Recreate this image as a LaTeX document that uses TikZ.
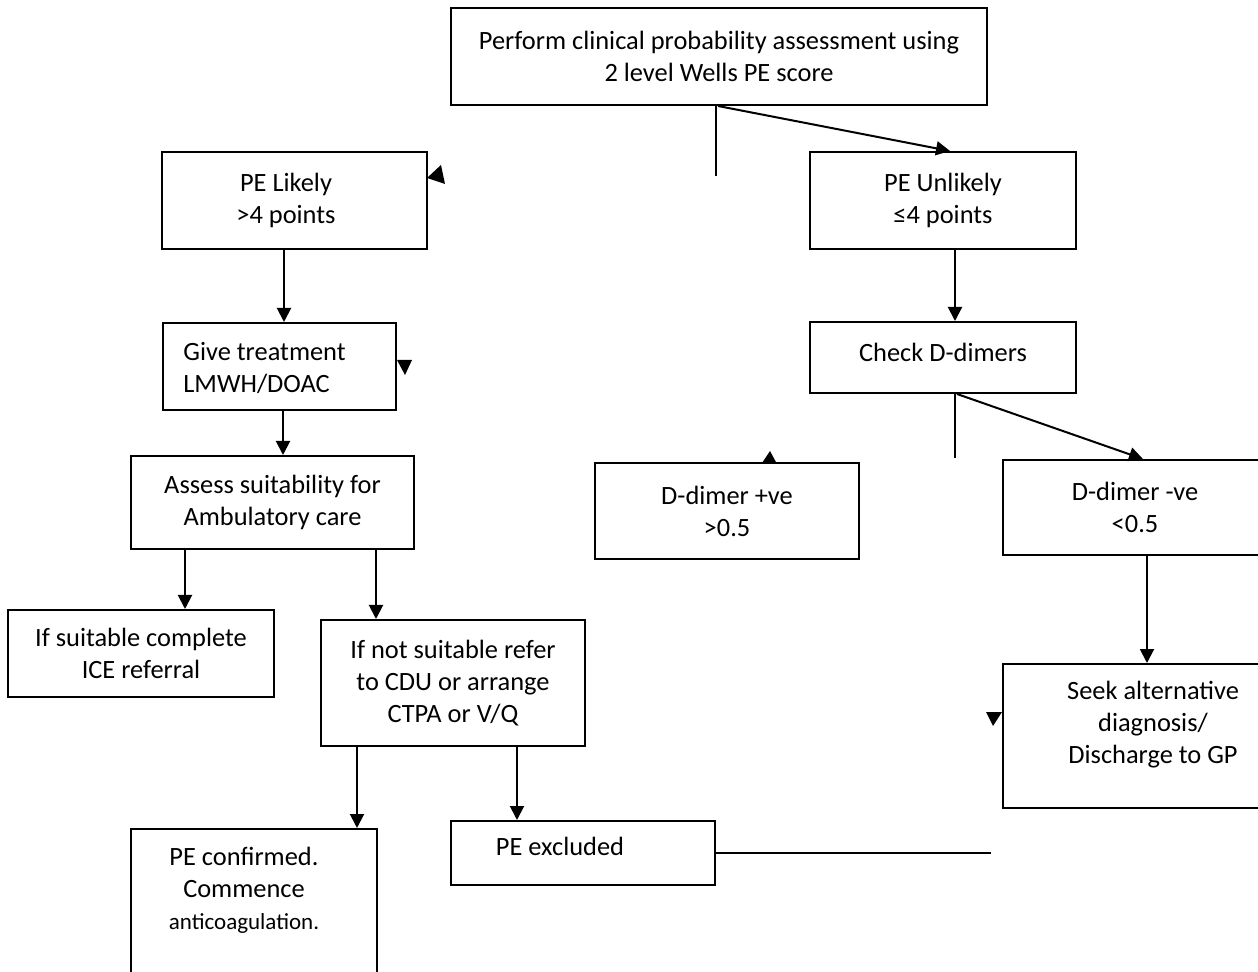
\documentclass[tikz,border=0pt]{standalone}
\usepackage{fontspec}
\setmainfont{Carlito}
\usetikzlibrary{arrows.meta}

\tikzset{
  box/.style={draw, line width=1pt, align=center, inner sep=0pt,
    font=\fontsize{13.2}{16}\selectfont},
  boxtext/.style={align=center, inner sep=0pt, font=\fontsize{13.2}{16}\selectfont},
  arr/.style={line width=1pt, -{Triangle[length=7pt,width=7pt]}},
  link/.style={line width=1pt},
}

\begin{document}
\begin{tikzpicture}[x=0.5pt,y=-0.5pt]

    % page as large as the scan
    \useasboundingbox (0,0) rectangle (1258,972);

    % first step
    \node[box, minimum width=268pt, minimum height=48.5pt] (wells) at (719,56.5)
        {Perform clinical probability assessment using\\2 level Wells PE score};

    % the two scores
    \node[box, minimum width=132.5pt, minimum height=48.5pt] (likely) at (294.5,200.5) {};
    \node[boxtext] (likelytext) at (286,200) {PE Likely\\>4 points};
    \node[box, minimum width=133pt, minimum height=48.5pt] (unlikely) at (943,200.5) {PE Unlikely\\≤4 points};

    % PE likely branch
    \node[box, minimum width=116.5pt, minimum height=43.5pt] (give) at (279.5,366.5) {};
    \node[boxtext, align=left, anchor=west] (givetext) at (183,368) {Give treatment\\LMWH/DOAC};
    \node[box, minimum width=141.5pt, minimum height=46.5pt] (assess) at (272.5,502.5)
        {Assess suitability for\\Ambulatory care};
    \node[box, minimum width=133pt, minimum height=43.5pt] (suitable) at (141,653.5)
        {If suitable complete\\ICE referral};
    \node[box, minimum width=132pt, minimum height=63pt] (notsuit) at (453,683)
        {If not suitable refer\\to CDU or arrange\\CTPA or V/Q};
    \node[box, minimum width=123pt, minimum height=90.5pt] (confirmed) at (254,919.5) {};
    \node[boxtext] (confirmedtext) at (244,890)
        {PE confirmed.\\Commence\\{\fontsize{11.5}{16}\selectfont anticoagulation.}};
    \node[box, minimum width=132pt, minimum height=32pt] (excluded) at (583,853) {};
    \node[boxtext] (excludedtext) at (560,846) {PE excluded};

    % PE unlikely branch
    \node[box, minimum width=133pt, minimum height=35.5pt] (check) at (943,357.5) {};
    \node[boxtext] (checktext) at (943,352) {Check D-dimers};
    \node[box, minimum width=132pt, minimum height=48pt] (dpos) at (727,511) {D-dimer +ve\\>0.5};
    \node[box, minimum width=132pt, minimum height=47.5pt] (dneg) at (1135,507.5) {D-dimer -ve\\<0.5};
    \node[box, minimum width=150pt, minimum height=72pt] (seek) at (1153,736) {};
    \node[boxtext] (seektext) at (1153,725) {Seek alternative\\diagnosis/\\Discharge to GP};

    % loose line ends
    \coordinate (wellsstub) at (716,176);
    \coordinate (checkstub) at (955,458);
    \coordinate (exclstub) at (991,853);

    % connectors
    \draw[link] (wells.south -| wellsstub) -- (wellsstub);
    \draw[arr] (wells.south -| 718,0) -- (unlikely.north -| 950,0);
    \draw[arr] (likely.south -| 284,0) -- (give.north -| 284,0);
    \draw[arr] (give.south -| 283,0) -- (assess.north -| 283,0);
    \draw[arr] (assess.south -| 185,0) -- (suitable.north -| 185,0);
    \draw[arr] (assess.south -| 376,0) -- (notsuit.north -| 376,0);
    \draw[arr] (notsuit.south -| 357,0) -- (confirmed.north -| 357,0);
    \draw[arr] (notsuit.south -| 517,0) -- (excluded.north -| 517,0);
    \draw[link] (excluded.east) -- (exclstub);

    \draw[arr] (unlikely.south -| 955,0) -- (check.north -| 955,0);
    \draw[link] (check.south -| checkstub) -- (checkstub);
    \draw[arr] (check.south -| 957,0) -- (dneg.north -| 1143,0);
    \draw[arr] (dneg.south -| 1147,0) -- (seek.north -| 1147,0);

    % stray arrow heads
    \fill (427,178) -- (441,165) -- (445,184) -- cycle;
    \fill (397,360) -- (412,360) -- (405,375) -- cycle;
    \fill (762,463) -- (777,464) -- (770,451) -- cycle;
    \fill (986,712) -- (1002,712) -- (993,726) -- cycle;

\end{tikzpicture}
\end{document}
